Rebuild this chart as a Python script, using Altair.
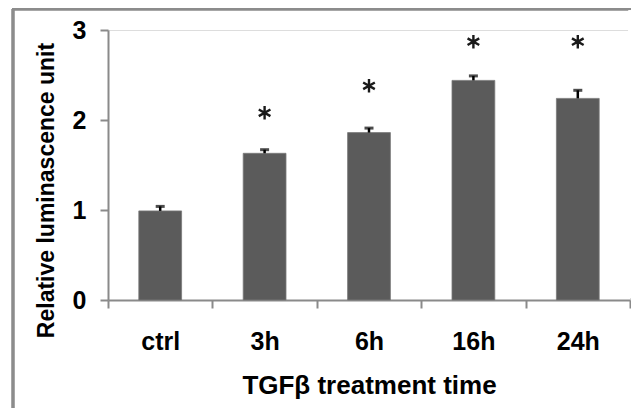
import altair as alt
import pandas as pd

categories = ["ctrl", "3h", "6h", "16h", "24h"]
values = [0.99, 1.63, 1.86, 2.44, 2.24]
errors = [0.05, 0.04, 0.05, 0.05, 0.09]
star_pos = [None, 2.08, 2.38, 2.87, 2.87]

df = pd.DataFrame({"cat": categories, "val": values, "err": errors})
df["top"] = df["val"] + df["err"]
stars = pd.DataFrame({"cat": categories, "star": star_pos}).dropna()

FONT = "Liberation Sans"
AXC = "#8a8a8a"
W, H = 522, 270

x = alt.X("cat:N", sort=categories,
          scale=alt.Scale(paddingInner=0, paddingOuter=0),
          axis=alt.Axis(title="TGFβ treatment time", labelAngle=0,
                        tickBand="extent", tickSize=8, tickWidth=2, tickColor=AXC,
                        domainColor=AXC, domainWidth=2,
                        labelFont=FONT, labelFontSize=25, labelFontWeight="bold",
                        labelColor="#000", labelBaseline="middle", labelPadding=33,
                        titleFont=FONT, titleFontSize=26, titleFontWeight="bold",
                        titleColor="#000", titleBaseline="middle", titleY=85))

y = alt.Y("val:Q", scale=alt.Scale(domain=[0, 3]),
          axis=alt.Axis(title="Relative luminascence unit", values=[0, 1, 2, 3],
                        grid=False, tickSize=8, tickWidth=2, tickColor=AXC,
                        domainColor=AXC, domainWidth=2, format="d",
                        labelFont=FONT, labelFontSize=25, labelFontWeight="bold",
                        labelColor="#000", labelPadding=14,
                        titleFont=FONT, titleFontSize=23, titleFontWeight="bold",
                        titleColor="#000", titleAngle=-90, titleBaseline="middle",
                        titleAlign="center", titleX=-62, titleY=160))

base = alt.Chart(df)

frame_left = base.mark_rule(color="#8c8c8c", strokeWidth=2.5).encode(
    x=alt.value(-95), y=alt.value(-21), y2=alt.value(600)
)
frame_top = base.mark_rule(color="#8c8c8c", strokeWidth=2.5).encode(
    x=alt.value(-96), x2=alt.value(800), y=alt.value(-21)
)
cover_a = base.mark_rule(color="white", strokeWidth=3).encode(
    x=alt.value(W), y=alt.value(-19.5), y2=alt.value(H - 2)
)
cover_b = base.mark_rule(color="white", strokeWidth=3).encode(
    x=alt.value(W), y=alt.value(H + 9), y2=alt.value(600)
)

bars = base.mark_bar(width=alt.RelativeBandSize(0.41), color="#5b5b5b",
                     stroke="#7a7a7a", strokeWidth=0.8).encode(x=x, y=y)

err = base.mark_rule(color="#000", strokeWidth=2.5).encode(
    x=alt.X("cat:N", sort=categories), y="val:Q", y2="top:Q")

cap = base.mark_tick(color="#000", size=9, thickness=3).encode(
    x=alt.X("cat:N", sort=categories), y="top:Q")

star_shape = "M0,-1L0,1M-0.87,-0.5L0.87,0.5M-0.87,0.5L0.87,-0.5"
star = alt.Chart(stars).mark_point(shape=star_shape, stroke="#1a1a1a", strokeWidth=2.4,
                                   size=180, filled=False, opacity=1).encode(
    x=alt.X("cat:N", sort=categories), y="star:Q")

chart = alt.layer(frame_left, frame_top, bars, err, cap, star, cover_a, cover_b).properties(
    width=W, height=H,
    autosize=alt.AutoSizeParams(type="none"),
    padding={"left": 100, "top": 22, "right": 1, "bottom": 108},
).configure_view(stroke=None).configure(background="white")

chart.save("out.html", embed_options={"renderer": "svg", "actions": False})
